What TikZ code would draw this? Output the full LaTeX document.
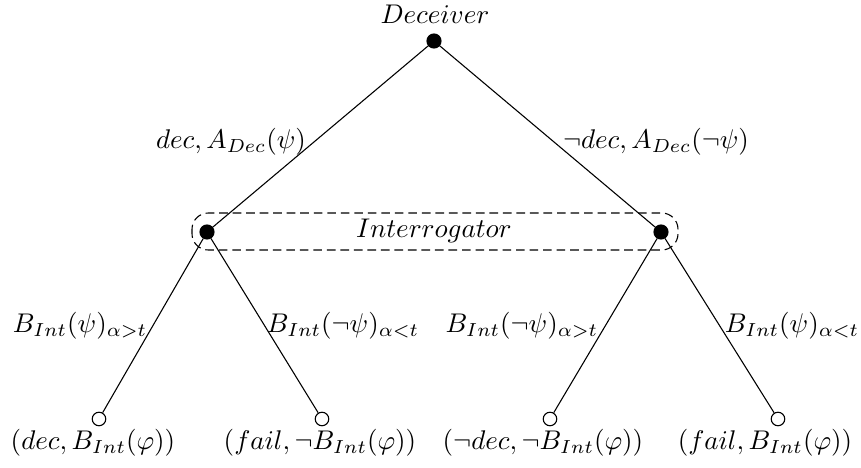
\documentclass[tikz,border=0pt]{standalone}
\usepackage{amssymb}
\begin{document}
\begin{tikzpicture}[x=0.37pt, y=-0.37pt]
\tikzset{
  decision/.style={circle, fill=black, draw, inner sep=0pt, minimum size=5.2pt},
  outcome/.style={circle, draw, fill=white, inner sep=0pt, minimum size=5pt},
  infoset/.style={dash pattern=on 3.2pt off 1.8pt, rounded corners=6pt}
}
\useasboundingbox (0,0) rectangle (861,468);

\node[decision] (d) at (434,41) {};
\node (dl) at (435,14) {$Deceiver$};

\node[decision] (i1) at (207,232) {};
\node[decision] (i2) at (661,232) {};

\node[outcome] (o1) at (99,419) {};
\node[outcome] (o2) at (322,419) {};
\node[outcome] (o3) at (550,419) {};
\node[outcome] (o4) at (778,419) {};

\draw (d) -- (i1);
\draw (d) -- (i2);
\draw (i1) -- (o1);
\draw (i1) -- (o2);
\draw (i2) -- (o3);
\draw (i2) -- (o4);

% information set of the interrogator
\draw[infoset] (192,213) rectangle (678,250);
\node (il) at (434,231) {$Interrogator$};

\node (la) at (231,142) {$dec, A_{Dec}(\psi)$};
\node (lb) at (656,142) {$\neg dec, A_{Dec}(\neg\psi)$};

\node (lc) at (80,326) {$B_{Int}(\psi)_{\alpha>t}$};
\node (ld) at (343,326) {$B_{Int}(\neg\psi)_{\alpha<t}$};
\node (le) at (522,326) {$B_{Int}(\neg\psi)_{\alpha>t}$};
\node (lf) at (792,326) {$B_{Int}(\psi)_{\alpha<t}$};

\node (r1) at (93,443) {$(dec, B_{Int}(\varphi))$};
\node (r2) at (320,443) {$(fail, \neg B_{Int}(\varphi))$};
\node (r3) at (543,443) {$(\neg dec, \neg B_{Int}(\varphi))$};
\node (r4) at (765,443) {$(fail, B_{Int}(\varphi))$};
\end{tikzpicture}
\end{document}
